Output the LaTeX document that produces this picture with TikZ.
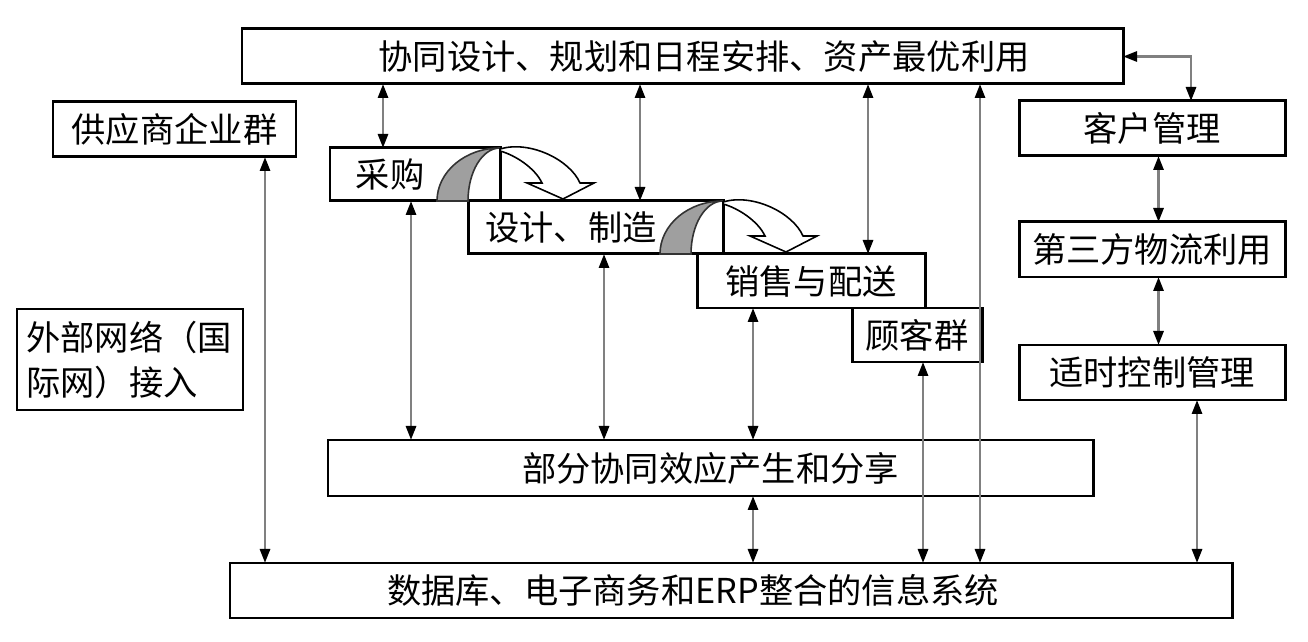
\documentclass[tikz,border=0pt]{standalone}
\usepackage{fontspec}
\setmainfont{Noto Sans CJK SC}
\usetikzlibrary{arrows.meta, positioning}

\begin{document}
\begin{tikzpicture}[
  box/.style={draw, line width=1.7pt, fill=white, minimum height=1.1cm, inner sep=0pt, outer sep=0pt,
              font=\fontsize{19.5}{25.6}\selectfont, align=center},
  txt/.style={inner sep=0pt, font=\fontsize{19.5}{25.6}\selectfont},
  arr/.style={<->, >={Triangle[length=2.8mm, width=2mm, black]}, line width=1.6pt, black!50},
  crescent/.style={fill=gray!75, draw=black!80, line width=0.9pt},
  hollow/.style={fill=white, draw=black, line width=0.9pt}
]
\useasboundingbox (0,0) rectangle (26.16,12.82);

% top row and side columns
\node[box, minimum width=17.62cm] (plan) at (13.65,11.69) {};
\node[txt] (plantxt) at ([xshift=0.43cm]plan.center) {协同设计、规划和日程安排、资产最优利用};
\node[box, minimum width=4.86cm] (supp) at (3.49,10.23) {供应商企业群};
\node[box, minimum width=5.32cm] (cust) at (23.04,10.25) {客户管理};
\node[box, minimum width=5.32cm, below=1.32cm of cust] (tpl) {第三方物流利用};
\node[box, minimum width=5.32cm, below=1.36cm of tpl] (jit) {适时控制管理};
\node[box, minimum width=4.52cm, minimum height=2.02cm, text width=4.15cm, align=left] (ext) at (2.6,5.63)
  {外部网络（国\\际网）接入};

% staircase
\node[box, minimum width=3.4cm, minimum height=1.06cm] (buy) at (8.3,9.33) {};
\node[txt] (buytxt) at ([xshift=-0.5cm]buy.center) {采购};
\node[box, minimum width=5.1cm, minimum height=1.06cm] (make) at (11.91,8.27) {};
\node[txt] (maketxt) at ([xshift=-0.49cm]make.center) {设计、制造};
\node[box, minimum width=4.56cm, minimum height=1.08cm] (sell) at (16.22,7.2) {销售与配送};
\node[box, minimum width=2.6cm, minimum height=1.08cm] (group) at (18.34,6.12) {顾客群};

% bottom rows
\node[box, minimum width=15.3cm, minimum height=1.12cm] (share) at (14.21,3.46) {部分协同效应产生和分享};
\node[box, minimum width=20.04cm] (info) at (14.62,1.01) {};
\node[txt] (infotxt) at ([xshift=-0.76cm]info.center) {数据库、电子商务和ERP整合的信息系统};

% turn-over shapes
\foreach \c in {buy, make} {
  \draw[crescent] ([xshift=-1.26cm]\c.south east)
    arc[start angle=180, end angle=90, x radius=1.26cm, y radius=1.06cm]
    arc[start angle=90, end angle=180, x radius=0.64cm, y radius=1.06cm] -- cycle;
  \draw[hollow, shift={(\c.north east)}] (0,-0.02) .. controls (0.6,0.16) and (1.4,-0.24) .. (1.6,-0.7)
    -- (1.88,-0.7) -- (1.26,-1.02) -- (0.54,-0.7) -- (0.84,-0.7)
    .. controls (0.7,-0.4) and (0.3,-0.14) .. (0,-0.06) -- cycle;
}

% connectors
\draw[arr] ([xshift=-0.64cm]buy.north) -- ([xshift=-0.64cm]buy.north |- plan.south);
\draw[arr] ([xshift=0.89cm]make.north) -- ([xshift=0.89cm]make.north |- plan.south);
\draw[arr] ([xshift=1.14cm]sell.north) -- ([xshift=1.14cm]sell.north |- plan.south);
\draw[arr] ([xshift=4.98cm]info.north) -- ([xshift=4.98cm]info.north |- plan.south);
\draw[arr] (plan.east) -| ([xshift=0.78cm]cust.north);
\draw[arr] ([xshift=1.81cm]supp.south) -- ([xshift=1.81cm]supp.south |- info.north);
\draw[arr] ([xshift=-0.08cm]buy.south) -- ([xshift=-0.08cm]buy.south |- share.north);
\draw[arr] ([xshift=0.17cm]make.south) -- ([xshift=0.17cm]make.south |- share.north);
\draw[arr] ([xshift=-1.16cm]sell.south) -- ([xshift=-1.16cm]sell.south |- share.north);
\draw[arr] ([xshift=0.85cm]share.south) -- ([xshift=0.85cm]share.south |- info.north);
\draw[arr] ([xshift=0.12cm]group.south) -- ([xshift=0.12cm]group.south |- info.north);
\draw[arr] ([xshift=0.13cm]cust.south) -- ([xshift=0.13cm]cust.south |- tpl.north);
\draw[arr] ([xshift=0.13cm]tpl.south) -- ([xshift=0.13cm]tpl.south |- jit.north);
\draw[arr] ([xshift=0.9cm]jit.south) -- ([xshift=0.9cm]jit.south |- info.north);
\end{tikzpicture}
\end{document}
